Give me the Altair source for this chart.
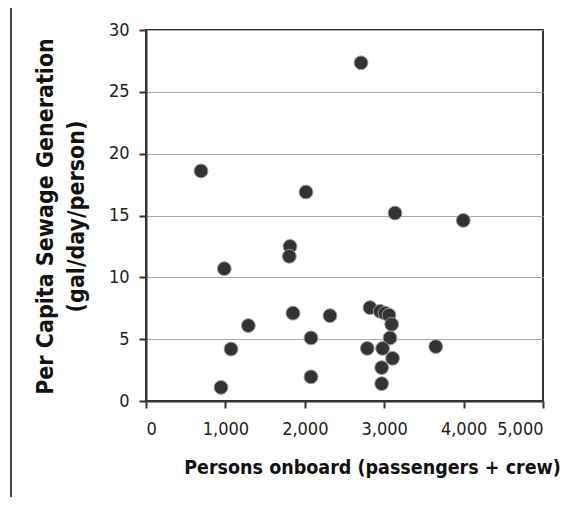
import altair as alt
import pandas as pd

persons = [693, 2015, 2708, 3136, 3996, 1814, 1805, 986, 1851, 1289, 1071, 945,
           2078, 2078, 2317, 2821, 2950, 3010, 3060, 3094, 3073, 2787, 2980,
           3105, 2968, 2968, 3649]
per_capita = [18.6, 16.9, 27.35, 15.2, 14.6, 12.5, 11.7, 10.7, 7.1, 6.1, 4.2, 1.1,
              5.1, 1.95, 6.9, 7.55, 7.25, 7.1, 6.95, 6.2, 5.1, 4.25, 4.25,
              3.45, 2.7, 1.4, 4.4]
x_ticks = [0, 1000, 2000, 3000, 4000, 5000]
y_ticks = [0, 5, 10, 15, 20, 25, 30]

df = pd.DataFrame({"persons": persons, "rate": per_capita})

FONT = "Liberation Sans Narrow, Arial Narrow, DejaVu Sans Condensed, Liberation Sans, sans-serif"

points = alt.Chart(df).mark_circle(
    size=190, color="#333333", opacity=1, stroke="#999999", strokeWidth=1
).encode(
    x=alt.X("persons:Q",
            scale=alt.Scale(domain=[0, 5000], nice=False),
            axis=alt.Axis(values=x_ticks, format=",d", grid=False,
                          title="Persons onboard (passengers + crew)",
                          titleX=226, titleY=72, titleAlign="center",
                          titleBaseline="alphabetic", titleFontSize=19.5,
                          tickSize=7, labelPadding=12)),
    y=alt.Y("rate:Q",
            scale=alt.Scale(domain=[0, 30], nice=False),
            axis=alt.Axis(values=y_ticks, grid=True,
                          title=["Per Capita Sewage Generation", "(gal/day/person)"],
                          titleX=-94, titleY=186, titleAngle=-90,
                          titleAlign="center", titleBaseline="alphabetic",
                          titleLineHeight=31, titleFontSize=23,
                          tickSize=7, labelPadding=10)),
)

frame_top = alt.Chart(df).mark_rule(color="#444444", strokeWidth=2).encode(
    x=alt.value(-135), x2=alt.value(420), y=alt.value(-28))
frame_left = alt.Chart(df).mark_rule(color="#444444", strokeWidth=2).encode(
    x=alt.value(-135), y=alt.value(-28), y2=alt.value(470))

chart = alt.layer(frame_top, frame_left, points).properties(
    width=397, height=371,
    autosize=alt.AutoSizeParams(type="none"),
    padding={"left": 138, "top": 22, "right": 19, "bottom": 96},
    background="white",
).configure_view(
    stroke="#333333", strokeWidth=2
).configure_axis(
    domainColor="#333333", domainWidth=2,
    tickColor="#333333", tickWidth=2,
    gridColor="#aaaaaa", gridWidth=1,
    labelFont=FONT, labelFontSize=18, labelColor="#222222",
    titleFont=FONT, titleFontWeight="bold", titleColor="#111111",
)

chart.save("out.html", embed_options={"renderer": "svg", "actions": False})
